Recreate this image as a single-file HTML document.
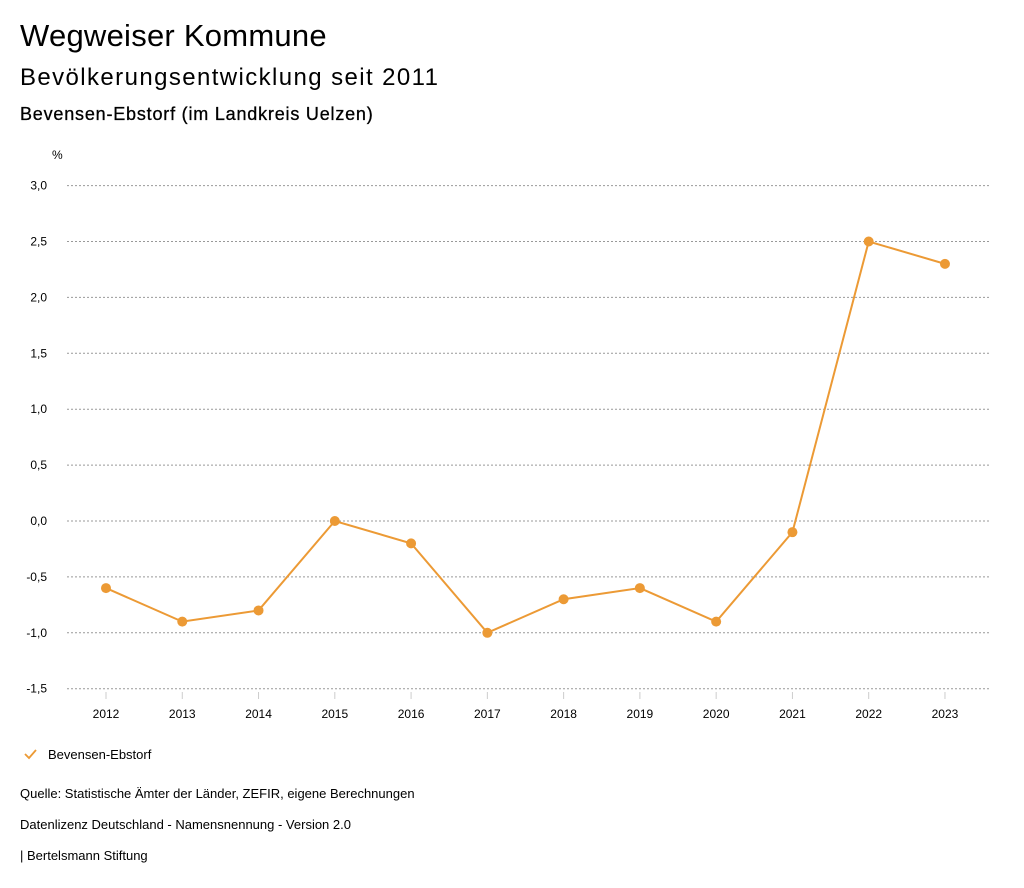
<!DOCTYPE html>
<html><head><meta charset="utf-8"><style>
body{margin:0;background:#fff;font-family:"Liberation Sans",sans-serif;}
.t{position:absolute;left:20px;color:#000;white-space:nowrap}
</style></head><body>
<div style="position:relative;width:1024px;height:888px;overflow:hidden">
<div class="t" style="top:18px;font-size:31px;letter-spacing:0.25px">Wegweiser Kommune</div>
<div class="t" style="top:64px;font-size:24px;letter-spacing:1.4px">Bevölkerungsentwicklung seit 2011</div>
<div class="t" style="top:104px;font-size:18px;letter-spacing:0.8px;-webkit-text-stroke:0.3px #000">Bevensen-Ebstorf (im Landkreis Uelzen)</div>
<svg id="chart" width="1024" height="888" style="position:absolute;left:0;top:0" font-family="Liberation Sans, sans-serif"></svg>
<div class="t" style="top:786px;font-size:13px">Quelle: Statistische Ämter der Länder, ZEFIR, eigene Berechnungen</div>
<div class="t" style="top:817px;font-size:13px">Datenlizenz Deutschland - Namensnennung - Version 2.0</div>
<div class="t" style="top:848px;font-size:13px">| Bertelsmann Stiftung</div>
</div>
<script>
const years=["2012","2013","2014","2015","2016","2017","2018","2019","2020","2021","2022","2023"];
const values=[-0.6,-0.9,-0.8,0.0,-0.2,-1.0,-0.7,-0.6,-0.9,-0.1,2.5,2.3];
const yTicks=[3.0,2.5,2.0,1.5,1.0,0.5,0.0,-0.5,-1.0,-1.5];
const NS="http://www.w3.org/2000/svg";
const svg=document.getElementById('chart');
const y=v=>521-v*111.8;
const x=i=>106+i*76.27;
function el(t,a,txt){const e=document.createElementNS(NS,t);for(const k in a)e.setAttribute(k,a[k]);if(txt!==undefined)e.textContent=txt;svg.appendChild(e);return e;}
let u=el('text',{x:52,y:159,'font-size':12,fill:'#000'},'%');


yTicks.forEach(v=>{
 const g=el('line',{x1:67,x2:990,y1:y(v),y2:y(v),stroke:'#999','stroke-dasharray':'2,2','stroke-width':1});
 
 
 const t=el('text',{x:47,y:y(v)+4,'font-size':12,'text-anchor':'end',fill:'#000'},v.toFixed(1).replace('.',','));
 
 
});
years.forEach((yr,i)=>{
 const m=el('line',{x1:x(i),x2:x(i),y1:692,y2:699,stroke:'#ccc'});
 
 
 const t=el('text',{x:x(i),y:718,'font-size':12,'text-anchor':'middle',fill:'#000'},yr);
 
 
});
const line=el('polyline',{points:values.map((v,i)=>x(i)+','+y(v)).join(' '),fill:'none',stroke:'#ec9a35','stroke-width':2});


values.forEach((v,i)=>{
 const c=el('circle',{cx:x(i),cy:y(v),r:5,fill:'#ec9a35'});
 
 
});
const chk=el('polyline',{points:'25,754 29,758 36,750',fill:'none',stroke:'#ec9a35','stroke-width':1.8});


const lt=el('text',{x:48,y:759,'font-size':13,fill:'#000'},'Bevensen-Ebstorf');


</script>
</body></html>
